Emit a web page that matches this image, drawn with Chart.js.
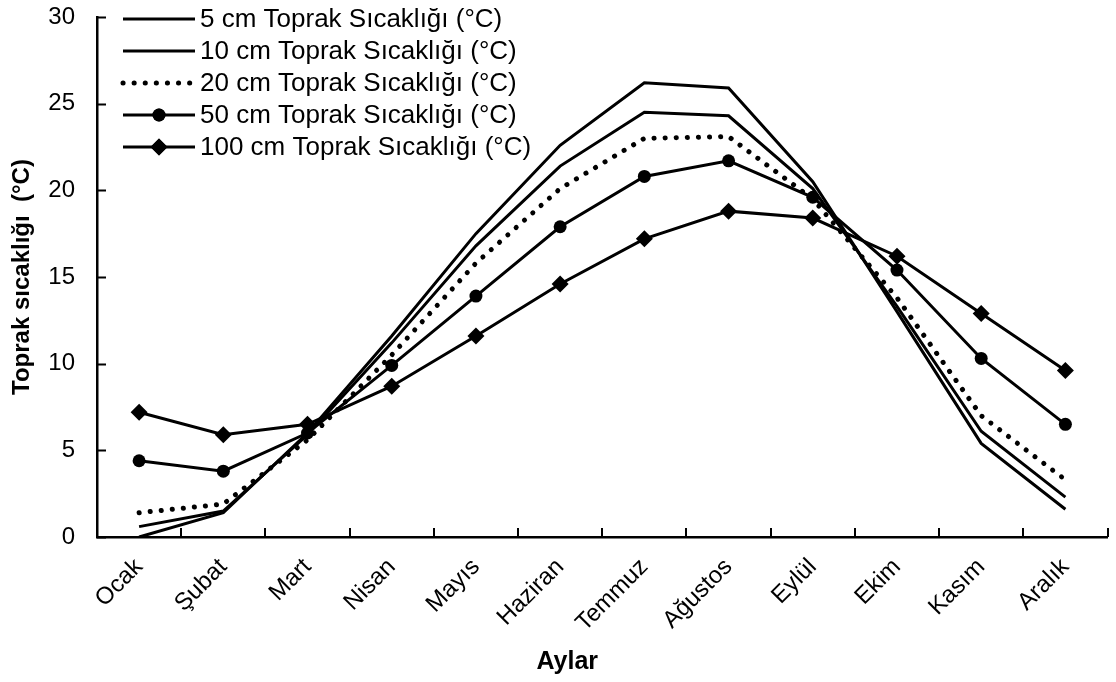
<!DOCTYPE html>
<html>
<head>
<meta charset="utf-8">
<script src="https://cdn.jsdelivr.net/npm/chart.js@4.4.1/dist/chart.umd.min.js"></script>
<style>
  html, body { margin: 0; padding: 0; background: #fff; }
  #wrap { width: 1116px; height: 682px; position: relative; }
</style>
</head>
<body>
<div id="wrap"><canvas id="c"></canvas></div>
<script>
// months (Aylar)
const months = ['Ocak', 'Şubat', 'Mart', 'Nisan', 'Mayıs', 'Haziran', 'Temmuz', 'Ağustos', 'Eylül', 'Ekim', 'Kasım', 'Aralık'];

// soil temperature by depth, °C
const cm5 = [0.0, 1.4, 6.0, 11.6, 17.5, 22.6, 26.2, 25.9, 20.5, 13.0, 5.4, 1.6];
const cm10 = [0.6, 1.5, 5.9, 11.2, 16.8, 21.4, 24.5, 24.3, 20.1, 13.3, 6.1, 2.3];
const cm20 = [1.4, 1.9, 5.6, 10.5, 15.8, 20.1, 23.0, 23.1, 19.5, 13.8, 7.0, 3.3];
const cm50 = [4.4, 3.8, 6.0, 9.9, 13.9, 17.9, 20.8, 21.7, 19.6, 15.4, 10.3, 6.5];
const cm100 = [7.2, 5.9, 6.5, 8.7, 11.6, 14.6, 17.2, 18.8, 18.4, 16.2, 12.9, 9.6];

const yTicks = [0, 5, 10, 15, 20, 25, 30];
const xTitle = 'Aylar';
const yTitle = 'Toprak sıcaklığı  (°C)';

const FONT = 'Arial, "Liberation Sans", sans-serif';

// tick marks point into the plot in the original, so draw them here
const innerTicks = {
  id: 'innerTicks',
  afterDraw(chart) {
    const { ctx } = chart;
    const { x, y } = chart.scales;
    const len = 9;
    ctx.save();
    ctx.strokeStyle = '#000';
    ctx.lineWidth = 2;
    ctx.beginPath();
    yTicks.forEach((v) => {
      const py = Math.round(y.getPixelForValue(v)) + 0.5;
      ctx.moveTo(x.left, py);
      ctx.lineTo(x.left + len, py);
    });
    for (let i = 0; i < months.length; i += 1) {
      const px = Math.round(x.getPixelForValue(i + 0.5));
      ctx.moveTo(px, y.bottom);
      ctx.lineTo(px, y.bottom - len);
    }
    ctx.stroke();
    ctx.restore();
  },
};

// legend drawn inside the plot, top left, like the original
const legendInPlot = {
  id: 'legendInPlot',
  afterDraw(chart) {
    const { ctx } = chart;
    const x0 = 123;
    const x1 = 195;
    const top = 19;
    const step = 32;
    ctx.save();
    chart.data.datasets.forEach((ds, i) => {
      const y = top + i * step;
      ctx.strokeStyle = ds.borderColor;
      ctx.lineWidth = ds.borderWidth;
      ctx.lineCap = ds.borderCapStyle || 'butt';
      ctx.setLineDash(ds.borderDash || []);
      ctx.beginPath();
      ctx.moveTo(x0, y);
      ctx.lineTo(x1, y);
      ctx.stroke();
      ctx.setLineDash([]);
      if (ds.pointRadius > 0) {
        ctx.fillStyle = ds.pointBackgroundColor;
        Chart.helpers.drawPoint(ctx, {
          pointStyle: ds.pointStyle, radius: ds.pointRadius, borderWidth: 0,
        }, (x0 + x1) / 2, y);
        ctx.fill();
      }
      ctx.fillStyle = '#000';
      ctx.font = `26px ${FONT}`;
      ctx.textBaseline = 'middle';
      ctx.fillText(ds.label, x1 + 5, y + 1);
    });

    // x axis title, sits a little left of the plot centre in the original
    const { chartArea } = chart;
    ctx.font = `bold 25px ${FONT}`;
    ctx.textAlign = 'center';
    ctx.textBaseline = 'middle';
    ctx.fillText(xTitle, (chartArea.left + chartArea.right) / 2 - 35, 662);
    ctx.restore();
  },
};

const solid = (label, data, extra) => ({
  label,
  data,
  borderColor: '#000',
  backgroundColor: '#000',
  pointBackgroundColor: '#000',
  borderWidth: 3,
  pointRadius: 0,
  pointBorderWidth: 0,
  tension: 0,
  ...extra,
});

// eslint-disable-next-line no-undef
new Chart(document.getElementById('c'), {
  type: 'line',
  data: {
    labels: months,
    datasets: [
      solid('5 cm Toprak Sıcaklığı (°C)', cm5),
      solid('10 cm Toprak Sıcaklığı (°C)', cm10),
      solid('20 cm Toprak Sıcaklığı (°C)', cm20, {
        borderDash: [0.1, 11], borderCapStyle: 'round', borderWidth: 5,
      }),
      solid('50 cm Toprak Sıcaklığı (°C)', cm50, { pointRadius: 6.5, pointStyle: 'circle' }),
      solid('100 cm Toprak Sıcaklığı (°C)', cm100, { pointRadius: 8.5, pointStyle: 'rectRot' }),
    ],
  },
  plugins: [innerTicks, legendInPlot],
  options: {
    responsive: true,
    maintainAspectRatio: false,
    animation: false,
    layout: { padding: { top: 17, right: 2, left: 0, bottom: 0 } },
    plugins: {
      legend: { display: false },
      tooltip: { enabled: false },
    },
    scales: {
      x: {
        type: 'category',
        offset: true,
        border: { color: '#000', width: 2.5 },
        grid: { display: false, drawTicks: false },
        ticks: {
          color: '#000', font: { family: FONT, size: 24 }, minRotation: 45, maxRotation: 45, padding: 16,
        },
        afterFit: (scale) => {
          scale.height = 145;
          scale.paddingLeft = 0;
          scale.paddingRight = 0;
        },
      },
      y: {
        min: 0,
        max: 30,
        afterBuildTicks: (scale) => { scale.ticks = yTicks.map((v) => ({ value: v })); },
        border: { color: '#000', width: 2.5 },
        grid: { display: false, drawTicks: false },
        ticks: {
          color: '#000', font: { family: FONT, size: 24 }, padding: 22,
        },
        title: {
          display: true, text: yTitle, color: '#000', font: { family: FONT, size: 24, weight: 'bold' }, padding: { top: 8, bottom: 0 },
        },
        afterFit: (scale) => {
          scale.width = 97;
          scale.paddingTop = 0;
          scale.paddingBottom = 0;
        },
      },
    },
  },
});
</script>
</body>
</html>
